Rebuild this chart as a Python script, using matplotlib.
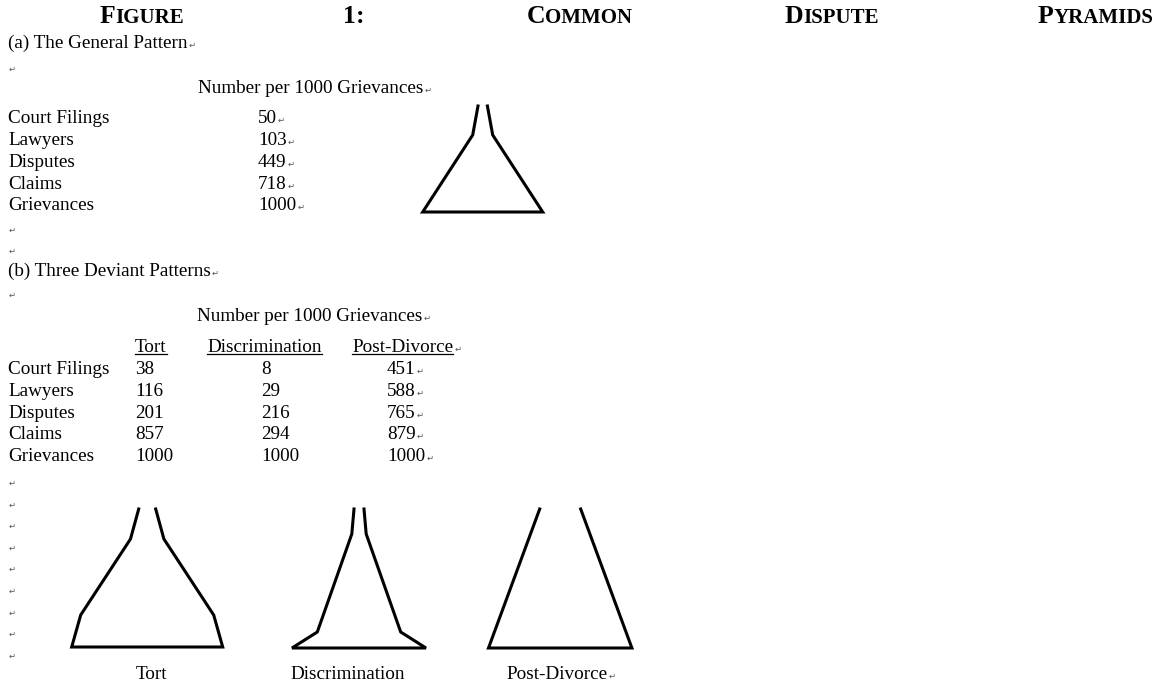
import matplotlib.pyplot as plt

plt.rcParams['font.family'] = ['Liberation Serif', 'DejaVu Sans']

# table data
stages = ['Court Filings', 'Lawyers', 'Disputes', 'Claims', 'Grievances']
general = [50, 103, 449, 718, 1000]
patterns = ['Tort', 'Discrimination', 'Post-Divorce']
tort = [38, 116, 201, 857, 1000]
discrimination = [8, 29, 216, 294, 1000]
post_divorce = [451, 588, 765, 879, 1000]

title_words = ['FIGURE', '1:', 'COMMON', 'DISPUTE', 'PYRAMIDS']

# pyramid outlines: height above base, half width (px)
gen_h, gen_w = [0, 77, 106], [60, 10, 4.7]
tort_h, tort_w = [0, 32, 108, 138], [75.5, 66.5, 16.7, 8.5]
disc_h, disc_w = [0, 16, 114, 139], [67, 41.7, 7.2, 5]
div_h, div_w = [0, 139], [71.7, 20.5]

fig = plt.figure(figsize=(11.62, 6.82), dpi=100)
ax = fig.add_axes([0, 0, 1, 1])
ax.set_xlim(0, 1162)
ax.set_ylim(682, 0)
ax.axis('off')
r = fig.canvas.get_renderer()
FS = 13.8


def right_edge(t):
    bb = t.get_window_extent(r)
    return ax.transData.inverted().transform((bb.x1, bb.y0))[0]


def mark(x, y):
    ax.text(x, y, '\u21b5', fontsize=6, color='#555555', va='baseline')


def put(x, y, s, end=False):
    # y is the baseline
    t = ax.text(x, y, s, fontsize=FS, va='baseline', ha='left')
    if end:
        mark(right_edge(t) + 1, y)
    return t


def pyramid(cx, base, hs, ws):
    xs = [cx - w for w in ws[::-1]] + [cx + w for w in ws]
    ys = [base - h for h in hs[::-1]] + [base - h for h in hs]
    ax.plot(xs, ys, color='black', lw=2.2, solid_joinstyle='miter')


# title in small caps, spread across the line
for x, word in zip([100, 343, 527, 785, 1038], title_words):
    t = ax.text(x, 23, word[0], fontsize=18.5, fontweight='bold', va='baseline')
    if len(word) > 1:
        rest = word[1:]
        fs = 18.5 if not rest.isalpha() else 15
        ax.text(right_edge(t), 23, rest, fontsize=fs, fontweight='bold', va='baseline')

# (a) general pattern
put(8, 48, '(a) The General Pattern', end=True)
mark(9, 72)
put(198, 93, 'Number per 1000 Grievances', end=True)
rows_a = [123, 145, 167, 189, 210]
for y, s, v in zip(rows_a, stages, general):
    put(8, y, s)
    put(258, y, str(v), end=True)
mark(9, 233)
mark(9, 254)
pyramid(482.7, 212, gen_h, gen_w)

# (b) deviant patterns
put(8, 276, '(b) Three Deviant Patterns', end=True)
mark(9, 298)
put(197, 321, 'Number per 1000 Grievances', end=True)
col_x = [135, 207, 352]
for i, (x, s) in enumerate(zip(col_x, patterns)):
    t = put(x, 352, s, end=(i == 2))
    ax.plot([x, right_edge(t)], [354, 354], color='black', lw=0.9)
rows_b = [374, 396, 418, 439, 461]
for y, s, a, b, c in zip(rows_b, stages, tort, discrimination, post_divorce):
    put(8, y, s)
    put(135, y, str(a))
    put(261, y, str(b))
    put(387, y, str(c), end=True)

for y in [486, 508, 529, 551, 572, 594, 616, 637, 659]:
    mark(9, y)

pyramid(147.2, 647, tort_h, tort_w)
pyramid(359, 648, disc_h, disc_w)
pyramid(560.2, 648, div_h, div_w)

put(136, 679, patterns[0])
put(290, 679, patterns[1])
put(506, 679, patterns[2], end=True)

fig.savefig('out.png', dpi=100)
